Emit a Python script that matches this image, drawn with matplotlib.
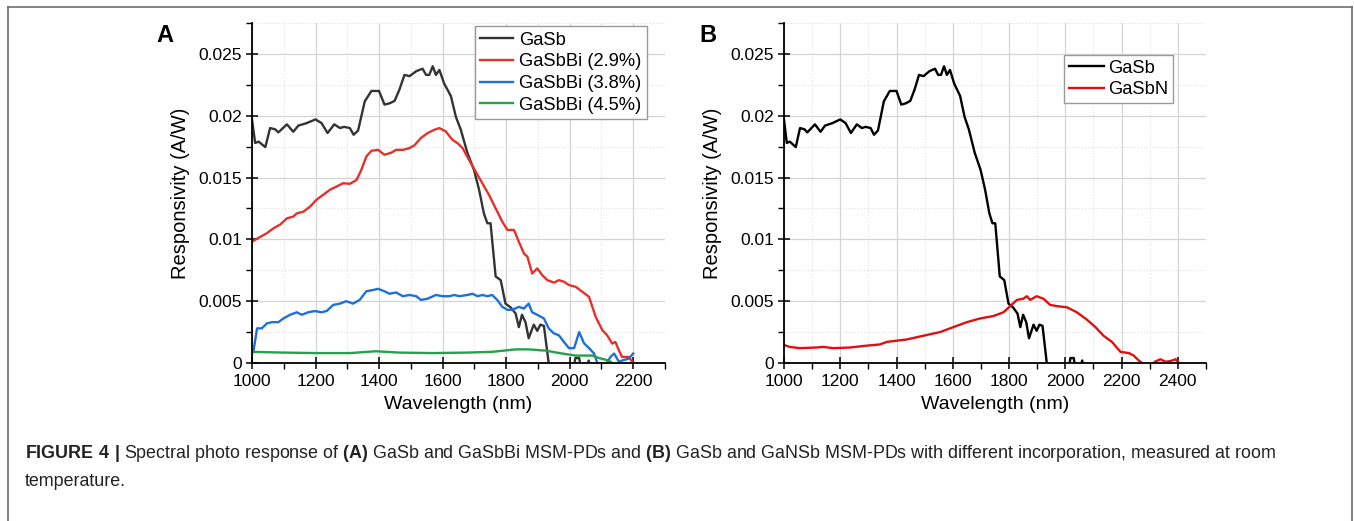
import matplotlib
matplotlib.use("Agg")
import matplotlib.pyplot as plt
from matplotlib.ticker import MultipleLocator, FuncFormatter
from matplotlib.lines import Line2D

plt.rcParams['font.family'] = 'Liberation Sans'
plt.rcParams['mathtext.fontset'] = 'custom'
plt.rcParams['mathtext.rm'] = 'Liberation Sans'
plt.rcParams['mathtext.bf'] = 'Liberation Sans:bold'

# GaSb reference (same in both panels)
gasb_nm = [1000, 1010, 1021, 1042, 1057, 1073, 1083, 1110, 1130, 1146, 1172, 1200,
           1219, 1238, 1259, 1277, 1290, 1308, 1320, 1334, 1355, 1376, 1400, 1417,
           1433, 1449, 1464, 1480, 1496, 1517, 1537, 1548, 1558, 1569, 1579, 1590,
           1605, 1626, 1642, 1657, 1678, 1699, 1715, 1730, 1741, 1751, 1767, 1783,
           1798, 1814, 1830, 1840, 1850, 1861, 1871, 1887, 1898, 1908, 1919, 1934,
           1945, 2012, 2018, 2030, 2036, 2054, 2060, 2066, 2075]
gasb_r = [0.0197, 0.0178, 0.0179, 0.01746, 0.0190, 0.0189, 0.01865, 0.0193, 0.0187, 0.0192,
          0.0194, 0.0197, 0.0194, 0.0186, 0.0193, 0.0190, 0.0191, 0.0190, 0.01846, 0.0188,
          0.02116, 0.0220, 0.0220, 0.0209, 0.0210, 0.0212, 0.0221, 0.0233, 0.0232, 0.0236,
          0.0238, 0.0233, 0.0233, 0.0240, 0.0233, 0.0237, 0.0226, 0.0216, 0.0199, 0.0189,
          0.0170, 0.0156, 0.0140, 0.0121, 0.0113, 0.0113, 0.0070, 0.0067, 0.0048, 0.0045,
          0.0040, 0.0029, 0.0039, 0.0033, 0.0020, 0.0031, 0.0026, 0.0031, 0.0030, 0.0,
          -0.001, -0.0005, 0.0004, 0.0004, -0.0005, -0.0003, 0.0002, -0.0005, -0.001]

bi29_nm = [1000, 1026, 1047, 1068, 1089, 1110, 1130, 1141, 1162, 1183, 1203, 1224, 1245,
           1266, 1287, 1308, 1329, 1344, 1360, 1376, 1397, 1417, 1438, 1454, 1475, 1496,
           1511, 1532, 1553, 1574, 1590, 1610, 1631, 1647, 1663, 1683, 1704, 1725, 1746,
           1767, 1788, 1804, 1825, 1840, 1856, 1867, 1882, 1898, 1914, 1930, 1951, 1966,
           1982, 1998, 2019, 2040, 2061, 2082, 2103, 2118, 2134, 2144, 2155, 2165, 2186, 2200]
bi29_r = [0.00981, 0.0102, 0.0105, 0.0109, 0.0112, 0.0117, 0.01184, 0.0121, 0.01224, 0.01265,
          0.0132, 0.0136, 0.0140, 0.01427, 0.01454, 0.01449, 0.0148, 0.0156, 0.0167, 0.01716,
          0.01724, 0.01684, 0.0170, 0.01724, 0.01724, 0.01738, 0.0176, 0.0182, 0.0186, 0.01886,
          0.0190, 0.01873, 0.01805, 0.01778, 0.01738, 0.01643, 0.01549, 0.01454, 0.0136, 0.01251,
          0.01143, 0.01076, 0.01076, 0.00981, 0.00886, 0.0086, 0.00724, 0.00765, 0.0071, 0.0067,
          0.0065, 0.0067, 0.00657, 0.0063, 0.00616, 0.00576, 0.00535, 0.00373, 0.00265, 0.00224,
          0.00157, 0.0017, 0.00103, 0.00049, 0.00049, 0.0]

bi38_nm = [1000, 1005, 1016, 1031, 1047, 1063, 1083, 1099, 1120, 1141, 1157, 1177, 1198,
           1219, 1235, 1256, 1277, 1297, 1318, 1339, 1360, 1381, 1397, 1417, 1433, 1454,
           1475, 1496, 1517, 1532, 1553, 1579, 1600, 1621, 1637, 1652, 1678, 1694, 1710,
           1725, 1741, 1756, 1772, 1788, 1804, 1819, 1840, 1856, 1871, 1882, 1898, 1919,
           1934, 1950, 1966, 1982, 1998, 2014, 2030, 2045, 2061, 2077, 2087, 2108, 2129,
           2140, 2155, 2165, 2186, 2200]
bi38_r = [0.00076, 0.0010, 0.0028, 0.0028, 0.0032, 0.0033, 0.0033, 0.0036, 0.0039, 0.0041,
          0.0039, 0.0041, 0.0042, 0.0041, 0.0042, 0.0047, 0.0048, 0.0050, 0.0048, 0.0051,
          0.0058, 0.0059, 0.0060, 0.0058, 0.0056, 0.0057, 0.0054, 0.0055, 0.0054, 0.0051,
          0.0052, 0.0055, 0.0054, 0.0054, 0.0055, 0.0054, 0.0055, 0.0056, 0.0054, 0.0055,
          0.0054, 0.0055, 0.0051, 0.00454, 0.0043, 0.0043, 0.00454, 0.0044, 0.0048, 0.0041,
          0.0039, 0.0036, 0.0028, 0.0024, 0.00224, 0.0017, 0.0012, 0.0012, 0.0025, 0.0016,
          0.0012, 0.00076, 0.0, -0.0003, 0.0005, 0.00076, 0.0001, 0.0002, 0.00035, 0.00076]

bi45_nm = [1000, 1099, 1203, 1308, 1390, 1464, 1569, 1673, 1756, 1830, 1871, 1924, 1977,
           2019, 2071, 2092, 2123, 2134]
bi45_r = [0.0009, 0.00084, 0.0008, 0.0008, 0.00095, 0.00084, 0.0008, 0.00084, 0.0009, 0.0011,
          0.0011, 0.0010, 0.00076, 0.0006, 0.0006, 0.0004, 0.0002, 0.0]

gasbn_nm = [1000, 1020, 1056, 1115, 1139, 1175, 1234, 1293, 1341, 1365, 1400, 1436, 1495,
            1555, 1602, 1650, 1697, 1745, 1780, 1804, 1828, 1851, 1863, 1875, 1898, 1922,
            1946, 1970, 2006, 2041, 2077, 2107, 2136, 2166, 2196, 2226, 2243, 2261, 2273,
            2290, 2310, 2318, 2338, 2356, 2374, 2392, 2404]
gasbn_r = [0.00146, 0.0013, 0.0012, 0.00125, 0.0013, 0.0012, 0.00125, 0.0014, 0.0015, 0.0017,
           0.0018, 0.0019, 0.0022, 0.0025, 0.0029, 0.0033, 0.0036, 0.0038, 0.0041, 0.0046,
           0.0051, 0.0052, 0.0054, 0.0051, 0.0054, 0.0052, 0.0047, 0.0046, 0.0045, 0.0041,
           0.0035, 0.0029, 0.0022, 0.0017, 0.0009, 0.0008, 0.0006, 0.0002, 0.0,
           -0.0008, -0.0003, 0.0001, 0.0003, 0.0001, 0.00016, 0.0003, 0.0]


def style_axes(ax, xmax, xticks):
    ax.set_xlim(1000, xmax)
    ax.set_ylim(0, 0.0275)
    ax.set_xticks(xticks)
    ax.xaxis.set_minor_locator(MultipleLocator(100))
    ax.yaxis.set_major_locator(MultipleLocator(0.005))
    ax.yaxis.set_minor_locator(MultipleLocator(0.0025))
    ax.yaxis.set_major_formatter(FuncFormatter(lambda v, p: '0' if v == 0 else ('%g' % v)))
    ax.grid(which='major', color='#d4d4d4', lw=0.9)
    ax.grid(which='minor', color='#e2e2e2', lw=0.8, ls=':')
    ax.set_axisbelow(True)
    for s in ['top', 'right']:
        ax.spines[s].set_visible(False)
    for s in ['left', 'bottom']:
        ax.spines[s].set_linewidth(1.3)
    ax.tick_params(which='major', direction='inout', length=8, width=1.1, labelsize=12.5)
    ax.tick_params(which='minor', direction='out', length=4, width=1.0)
    ax.tick_params(axis='y', pad=3)
    ax.tick_params(axis='x', pad=4)
    ax.set_xlabel('Wavelength (nm)', fontsize=14, labelpad=5)
    ax.set_ylabel('Responsivity (A/W)', fontsize=14.5, labelpad=6)


fig = plt.figure(figsize=(13.54, 5.21), dpi=100)

axA = fig.add_axes([0.1861, 0.3033, 0.305, 0.6526])
axA.plot(gasb_nm, gasb_r, color='#333333', lw=1.7, label='GaSb')
axA.plot(bi29_nm, bi29_r, color='#e8302b', lw=1.7, label='GaSbBi (2.9%)')
axA.plot(bi38_nm, bi38_r, color='#1f6fd8', lw=1.7, label='GaSbBi (3.8%)')
axA.plot(bi45_nm, bi45_r, color='#26a04b', lw=1.7, label='GaSbBi (4.5%)')
style_axes(axA, 2300, [1000, 1200, 1400, 1600, 1800, 2000, 2200])
legA = axA.legend(loc='upper right', bbox_to_anchor=(0.956, 0.99), fontsize=13.2,
                  frameon=True, fancybox=False, edgecolor='#999999', framealpha=1,
                  handlelength=1.8, labelspacing=0.25, borderpad=0.3, handletextpad=0.3,
                  borderaxespad=0)
legA.get_frame().set_linewidth(1.0)

axB = fig.add_axes([0.579, 0.3033, 0.3117, 0.6526])
axB.plot(gasb_nm, gasb_r, color='black', lw=1.7, label='GaSb')
axB.plot(gasbn_nm, gasbn_r, color='#e0100f', lw=1.7, label='GaSbN')
style_axes(axB, 2500, [1000, 1200, 1400, 1600, 1800, 2000, 2200, 2400])
legB = axB.legend(loc='upper right', bbox_to_anchor=(0.922, 0.906), fontsize=13.2,
                  frameon=True, fancybox=False, edgecolor='#999999', framealpha=1,
                  handlelength=1.9, labelspacing=0.25, borderpad=0.25, handletextpad=0.25,
                  borderaxespad=0)
legB.get_frame().set_linewidth(1.0)

fig.text(165 / 1354, 1 - 35 / 521, 'A', fontsize=17, fontweight='bold', ha='center', va='center')
fig.text(708 / 1354, 1 - 35 / 521, 'B', fontsize=17, fontweight='bold', ha='center', va='center')

# outer frame
frame_kw = dict(color='#6e6e6e', lw=1.2, transform=fig.transFigure)
fig.add_artist(Line2D([8 / 1354, 8 / 1354], [0, 1 - 7 / 521], **frame_kw))
fig.add_artist(Line2D([8 / 1354, 1352 / 1354], [1 - 7 / 521, 1 - 7 / 521], **frame_kw))
fig.add_artist(Line2D([1352 / 1354, 1352 / 1354], [0, 1 - 7 / 521], **frame_kw))

cap1 = (r'$\mathbf{FIGURE\ 4\ |}$ Spectral photo response of $\mathbf{(A)}$ GaSb and GaSbBi '
        r'MSM-PDs and $\mathbf{(B)}$ GaSb and GaNSb MSM-PDs with different incorporation, '
        r'measured at room')
fig.text(25 / 1354, 1 - 453 / 521, cap1, fontsize=12.9, ha='left', va='center', color='#222222')
fig.text(25 / 1354, 1 - 482 / 521, 'temperature.', fontsize=12.9, ha='left', va='center',
         color='#222222')

fig.savefig('out.png', dpi=100)
